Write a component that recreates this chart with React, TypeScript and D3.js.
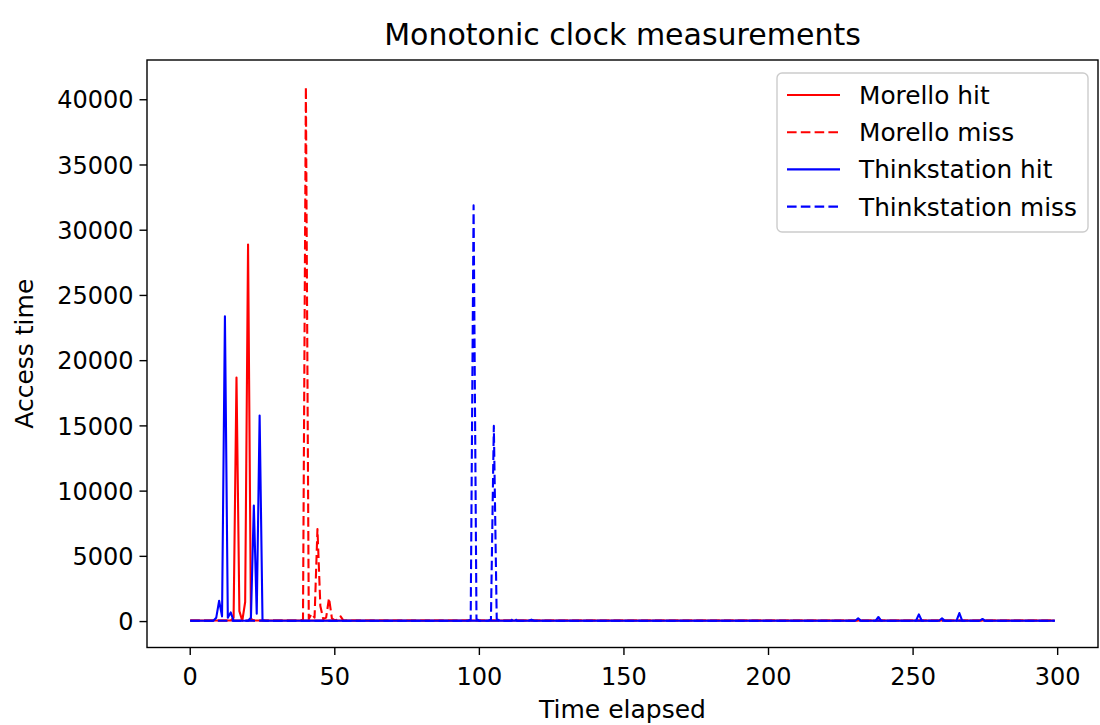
import React, { useEffect, useRef } from 'react';
import * as d3 from 'd3';

// breakpoints (time elapsed, access time)
const morelloHitX = [0, 14, 15, 16, 17, 18, 19, 20, 21, 22, 299];
const morelloHitY = [80, 80, 300, 18700, 800, 60, 1500, 28900, 200, 80, 80];

const morelloMissX = [0, 38, 39, 40, 41, 42, 43, 44, 45, 46, 47, 48, 49, 50, 51, 52, 53, 299];
const morelloMissY = [80, 80, 150, 41000, 200, 600, 300, 7100, 1200, 200, 300, 1800, 250, 100, 150, 400, 80, 80];

const thinkHitX = [0, 8, 9, 10, 11, 12, 13, 14, 15, 20, 21, 22, 23, 24, 25, 26,
  230, 231, 232, 237, 238, 239, 251, 252, 253, 259, 260, 261, 265, 266, 267, 273, 274, 275, 299];
const thinkHitY = [60, 60, 300, 1600, 400, 23400, 300, 700, 60, 60, 300, 8900, 600, 15800, 100, 60,
  60, 250, 60, 60, 350, 60, 60, 550, 60, 60, 250, 60, 60, 650, 60, 60, 200, 60, 60];

const thinkMissX = [0, 96, 97, 98, 99, 100, 103, 104, 105, 106, 107, 111, 112, 113, 117, 118, 119, 299];
const thinkMissY = [60, 60, 150, 31900, 200, 60, 60, 150, 15000, 200, 60, 60, 300, 60, 60, 150, 60, 60];

const seriesNames = ['Morello hit', 'Morello miss', 'Thinkstation hit', 'Thinkstation miss'];
const seriesColors = ['#ff0000', '#ff0000', '#0000ff', '#0000ff'];
const seriesDashed = [false, true, false, true];

const xTicks = [0, 50, 100, 150, 200, 250, 300];
const yTicks = [0, 5000, 10000, 15000, 20000, 25000, 30000, 35000, 40000];

const W = 1100, H = 725;
const FONT = 'DejaVu Sans, sans-serif';

function App() {
  const ref = useRef<SVGSVGElement>(null);

  useEffect(() => {
    const svg = d3.select(ref.current);
    svg.selectAll('*').remove();

    const left = 147, right = 1098, top = 60, bottom = 647.5;
    const series = [
      d3.zip(morelloHitX, morelloHitY),
      d3.zip(morelloMissX, morelloMissY),
      d3.zip(thinkHitX, thinkHitY),
      d3.zip(thinkMissX, thinkMissY),
    ];
    const allX = series.flat().map(d => d[0]);
    const allY = series.flat().map(d => d[1]);
    const [x0, x1] = d3.extent(allX) as [number, number];
    const [y0, y1] = d3.extent(allY) as [number, number];
    const px = (x1 - x0) * 0.05, py = (y1 - y0) * 0.05;

    const x = d3.scaleLinear().domain([x0 - px, x1 + px]).range([left, right]);
    const y = d3.scaleLinear().domain([y0 - py, y1 + py]).range([bottom, top]);

    svg.append('rect').attr('width', W).attr('height', H).attr('fill', '#fff');

    const line = d3.line<number[]>().x(d => x(d[0])).y(d => y(d[1]));

    const clip = svg.append('clipPath').attr('id', 'plotclip');
    clip.append('rect').attr('x', left).attr('y', top).attr('width', right - left).attr('height', bottom - top);

    const plot = svg.append('g').attr('clip-path', 'url(#plotclip)');
    series.forEach((s, i) => {
      plot.append('path')
        .attr('d', line(s))
        .attr('fill', 'none')
        .attr('stroke', seriesColors[i])
        .attr('stroke-width', 2.1)
        .attr('stroke-linejoin', 'round')
        .attr('stroke-dasharray', seriesDashed[i] ? '9.6,4.2' : null);
    });

    // spines
    svg.append('rect')
      .attr('x', left).attr('y', top)
      .attr('width', right - left).attr('height', bottom - top)
      .attr('fill', 'none').attr('stroke', '#000').attr('stroke-width', 1.4);

    const tickLen = 7.5;
    const xt = svg.append('g');
    xTicks.forEach(t => {
      xt.append('line').attr('x1', x(t)).attr('x2', x(t))
        .attr('y1', bottom).attr('y2', bottom + tickLen)
        .attr('stroke', '#000').attr('stroke-width', 1.4);
      xt.append('text').attr('x', x(t)).attr('y', 685)
        .attr('text-anchor', 'middle').attr('font-family', FONT).attr('font-size', 24)
        .attr('fill', '#000').text(t);
    });

    const yt = svg.append('g');
    yTicks.forEach(t => {
      yt.append('line').attr('x1', left - tickLen).attr('x2', left)
        .attr('y1', y(t)).attr('y2', y(t))
        .attr('stroke', '#000').attr('stroke-width', 1.4);
      yt.append('text').attr('x', left - tickLen - 6).attr('y', y(t)).attr('dy', '0.36em')
        .attr('text-anchor', 'end').attr('font-family', FONT).attr('font-size', 24)
        .attr('fill', '#000').text(t);
    });

    svg.append('text').attr('x', (left + right) / 2).attr('y', 718)
      .attr('text-anchor', 'middle').attr('font-family', FONT).attr('font-size', 25)
      .text('Time elapsed');

    svg.append('text')
      .attr('transform', `translate(33,${(top + bottom) / 2}) rotate(-90)`)
      .attr('text-anchor', 'middle').attr('font-family', FONT).attr('font-size', 25)
      .text('Access time');

    svg.append('text').attr('x', (left + right) / 2).attr('y', 45)
      .attr('text-anchor', 'middle').attr('font-family', FONT).attr('font-size', 30)
      .text('Monotonic clock measurements');

    // legend
    const lg = svg.append('g');
    lg.append('rect')
      .attr('x', 777).attr('y', 73).attr('width', 311).attr('height', 159).attr('rx', 5)
      .attr('fill', '#fff').attr('fill-opacity', 0.8)
      .attr('stroke', '#cccccc').attr('stroke-width', 1.4);
    seriesNames.forEach((name, i) => {
      const cy = 95 + i * 37.2;
      lg.append('line').attr('x1', 787).attr('x2', 840).attr('y1', cy).attr('y2', cy)
        .attr('stroke', seriesColors[i]).attr('stroke-width', 2.1)
        .attr('stroke-dasharray', seriesDashed[i] ? '9.6,4.2' : null);
      lg.append('text').attr('x', 859).attr('y', cy).attr('dy', '0.36em')
        .attr('font-family', FONT).attr('font-size', 24.8).attr('fill', '#000')
        .text(name);
    });
  }, []);

  return (
    <svg ref={ref} width={W} height={H}
      style={{ position: 'absolute', left: 0, top: 0, display: 'block' }} />
  );
}

export default App;
